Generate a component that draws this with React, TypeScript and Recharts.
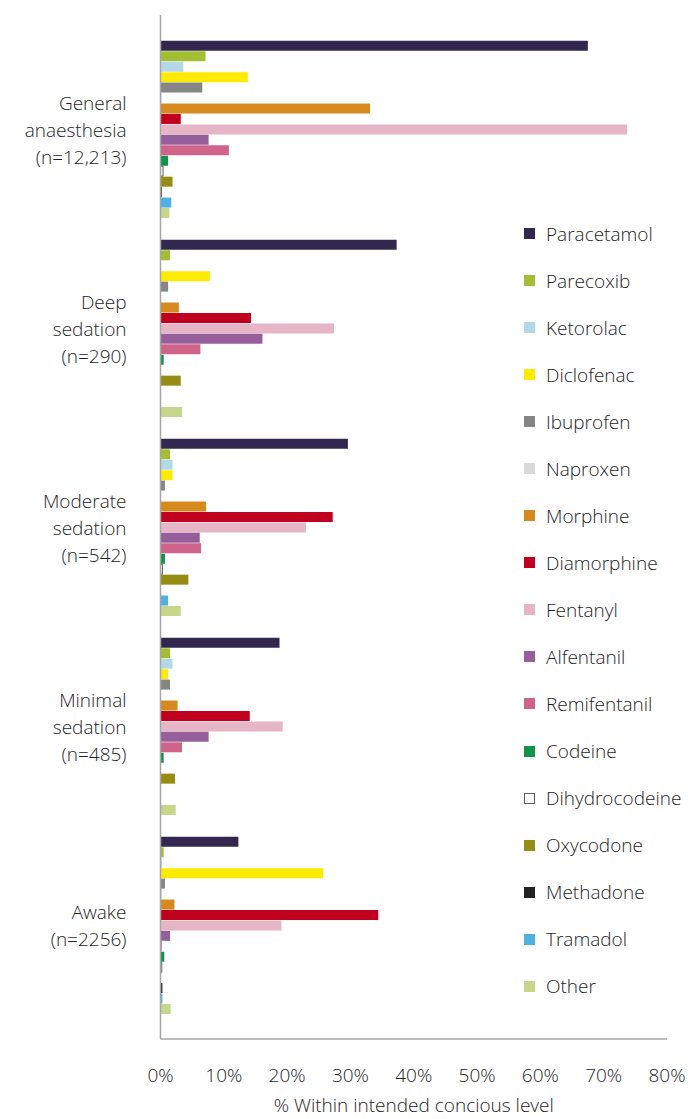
import React from 'react';
import { BarChart, Bar, XAxis, YAxis, Legend, Label } from 'recharts';

const categories = [
  'General\nanaesthesia\n(n=12,213)',
  'Deep\nsedation\n(n=290)',
  'Moderate\nsedation\n(n=542)',
  'Minimal\nsedation\n(n=485)',
  'Awake\n(n=2256)',
];

const seriesNames = [
  'Paracetamol', 'Parecoxib', 'Ketorolac', 'Diclofenac', 'Ibuprofen', 'Naproxen',
  'Morphine', 'Diamorphine', 'Fentanyl', 'Alfentanil', 'Remifentanil', 'Codeine',
  'Dihydrocodeine', 'Oxycodone', 'Methadone', 'Tramadol', 'Other',
];

const seriesColors = [
  '#32284F', '#A4BE33', '#B4D9E6', '#FFEB00', '#858585', '#D9D9D9',
  '#D8891E', '#C0001F', '#E6B5C6', '#965E9B', '#CF6389', '#12934A',
  '#FFFFFF', '#968C14', '#222222', '#4FB0E3', '#C6D68A',
];

// values in % per category (GA, Deep, Moderate, Minimal, Awake)
const paracetamol = [67.5, 37.3, 29.6, 18.8, 12.3];
const parecoxib = [7.1, 1.5, 1.5, 1.5, 0.5];
const ketorolac = [3.6, 0, 1.9, 1.9, 0.2];
const diclofenac = [13.8, 7.8, 1.9, 1.2, 25.7];
const ibuprofen = [6.6, 1.2, 0.7, 1.5, 0.7];
const naproxen = [0.2, 0, 0, 0, 0.2];
const morphine = [33.1, 2.9, 7.2, 2.7, 2.2];
const diamorphine = [3.2, 14.3, 27.2, 14.1, 34.4];
const fentanyl = [73.7, 27.4, 23.0, 19.3, 19.1];
const alfentanil = [7.6, 16.1, 6.2, 7.6, 1.5];
const remifentanil = [10.8, 6.3, 6.4, 3.4, 0.2];
const codeine = [1.2, 0.5, 0.7, 0.5, 0.6];
const dihydrocodeine = [0.4, 0, 0.3, 0, 0.2];
const oxycodone = [1.9, 3.2, 4.4, 2.3, 0];
const methadone = [0.2, 0, 0, 0, 0.3];
const tramadol = [1.7, 0, 1.2, 0, 0.3];
const other = [1.4, 3.4, 3.2, 2.4, 1.6];

const seriesValues = [
  paracetamol, parecoxib, ketorolac, diclofenac, ibuprofen, naproxen,
  morphine, diamorphine, fentanyl, alfentanil, remifentanil, codeine,
  dihydrocodeine, oxycodone, methadone, tramadol, other,
];

const xTicks = [0, 10, 20, 30, 40, 50, 60, 70, 80];

const data = categories.map((c, i) => {
  const row: Record<string, any> = { name: c };
  seriesNames.forEach((s, j) => {
    row[s] = seriesValues[j][i];
  });
  return row;
});

const FONT = '"Open Sans", Lato, sans-serif';
const FW = 300;
const FS = 19;
const TEXT = '#1E1E1E';
const AXIS = '#A6A6A6';

const YTick = (props: any) => {
  const { x, y, payload } = props;
  const lines = String(payload.value).split('\n');
  const lh = 27;
  const start = y - ((lines.length - 1) * lh) / 2;
  return (
    <text x={x - 26} y={start} textAnchor="end" fontFamily={FONT} fontWeight={FW} fontSize={FS} fill={TEXT} dominantBaseline="central">
      {lines.map((l, i) => (
        <tspan key={i} x={x - 26} y={start + i * lh} dominantBaseline="central">{l}</tspan>
      ))}
    </text>
  );
};

const LegendContent = () => (
  <div style={{ fontFamily: FONT, fontWeight: FW, fontSize: FS, color: TEXT, textAlign: 'left' }}>
    {seriesNames.map((s, i) => (
      <div key={s} style={{ height: 47.06, display: 'flex', alignItems: 'center', whiteSpace: 'nowrap' }}>
        <span
          style={{
            display: 'inline-block',
            width: 11,
            height: 11,
            flex: 'none',
            boxSizing: 'border-box',
            background: seriesColors[i],
            border: s === 'Dihydrocodeine' ? '1px solid #595959' : 'none',
            marginRight: 11,
          }}
        />
        <span>{s}</span>
      </div>
    ))}
  </div>
);

export default function App() {
  return (
    <div style={{ position: 'absolute', left: 0, top: 0, width: 688, height: 1119, background: '#fff' }}>
      <BarChart
        width={688}
        height={1119}
        data={data}
        layout="vertical"
        margin={{ top: 15, right: 21, bottom: 0, left: 0 }}
        barCategoryGap={10.8}
        barGap={0.45}
      >
        <XAxis
          type="number"
          domain={[0, 80]}
          ticks={xTicks}
          tickFormatter={(v: number) => `${v}%`}
          axisLine={{ stroke: AXIS, strokeWidth: 1.5 }}
          tickLine={false}
          tickMargin={24}
          height={80}
          tick={{ fontFamily: FONT, fontWeight: FW, fontSize: FS, fill: TEXT }}
          interval={0}
        >
          <Label
            value="% Within intended concious level"
            position="insideBottom"
            offset={7}
            style={{ fontFamily: FONT, fontWeight: FW, fontSize: FS, fill: TEXT }}
          />
        </XAxis>
        <YAxis
          type="category"
          dataKey="name"
          width={160.5}
          axisLine={{ stroke: AXIS, strokeWidth: 1.5 }}
          tickLine={false}
          tick={<YTick />}
          padding={{ top: 15, bottom: 14 }}
          interval={0}
        />
        <Legend
          content={<LegendContent />}
          layout="vertical"
          verticalAlign="middle"
          align="center"
          wrapperStyle={{ position: 'absolute', left: 524, top: 210, width: 164 }}
        />
        {seriesNames.map((s, i) => (
          <Bar
            key={s}
            dataKey={s}
            name={s}
            fill={seriesColors[i]}
            stroke={s === 'Dihydrocodeine' ? '#595959' : undefined}
            strokeWidth={s === 'Dihydrocodeine' ? 1 : 0}
            isAnimationActive={false}
          />
        ))}
      </BarChart>
    </div>
  );
}
